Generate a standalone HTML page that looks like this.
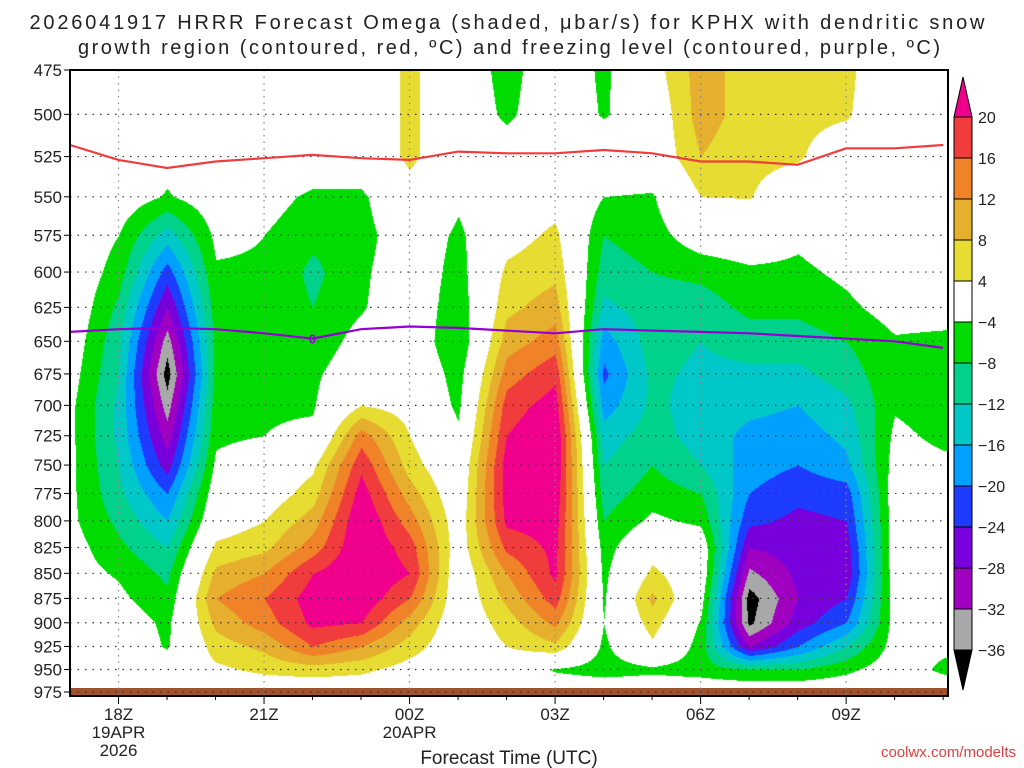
<!DOCTYPE html>
<html><head><meta charset="utf-8"><style>
body{margin:0;background:#fff;width:1024px;height:768px;overflow:hidden;font-family:"Liberation Sans",sans-serif}
#wrap{position:relative;width:1024px;height:768px}
canvas{position:absolute;left:70px;top:70px}
svg{position:absolute;left:0;top:0}
</style></head><body>
<div id="wrap">
<canvas id="cv" width="878" height="626"></canvas>
<svg id="sv" width="1024" height="768"></svg>
</div>
<script>
const hours=[17,18,19,20,21,22,23,24,25,26,27,28,29,30,31,32,33,34,35];
const pLevels=[475,500,525,550,575,600,625,650,675,700,725,750,775,800,825,850,875,900,925,950,975];
// omega[hour][level]
const omega=[
[0,0,0,0,0,0,0,-1,-2,-3,-3,-3,-3,-3,-2,-2,-1,-1,0,0,0],
[0,0,0,-1,-4,-6,-9,-11,-12,-13,-13,-12,-11,-9,-7,-4.5,-3,-1,0,0,0],
[-1,-1,-2,-4.5,-14,-22,-28,-34,-38,-34,-30,-26,-20,-16,-12,-9,-7,-5,-4.5,0,0],
[0,0,0,-1,-3,-4.5,-6,-7,-7,-6,-5,-3,-1,1,5,9,12,9,6,3,0],
[0,0,0,-2,-4,-4.5,-5,-5,-5,-4.5,-4,0,1,4,7,12,16,14,9,5,0],
[0,0,0,-5,-7,-9,-8,-7,-5,-4.5,-3,3,6,10,14,20,22,21,16,6,0],
[0,0,0,-5,-6,-5,-4.5,-2,0,4,14,19,22,24,24,24,23,20,12,5,0],
[5,5,5,2,0,0,0,0,1,2,4,6,10,14,18,20,16,10,6,2,0],
[0,0,0,-3,-5,-6,-7,-8,-6,-5,-3,-1,0,1,1,0,0,0,0,0,0],
[-6,-5,-1,0,2,5,7,10,14,18,20,22,22,21,17,12,9,6,4,0,0],
[0,0,0,2,5,7,10,14,19,22,24,24,23,22,21,21,18,13,7,-4.5,0],
[-5,-4.5,0,-4,-8,-10,-13,-18,-21,-18,-14,-12,-10,-8,-6,-5,-4.5,-4,-5,-6,0],
[2,0,0,-4.5,-6,-8,-10,-10,-11,-11,-10,-8,-6,-3,2,5,9,6,3,-5,0],
[10,10,8,4,-1,-7,-10,-12,-13,-14,-14,-12,-8,-5,0,0,-2,-4.5,-6,-6,0],
[6,6,5,4.2,0,-5,-7,-10,-13,-15,-17,-18,-20,-23,-28,-33,-38,-37,-28,-8,0],
[5,5,4.5,1,-3,-5,-7,-10,-13,-16,-18,-20,-23,-25,-26,-27,-28,-26,-20,-8,0],
[5,4.5,1,0,-1,-3,-5,-8,-10,-13,-15,-17,-22,-24,-26,-27,-24,-20,-12,-5,0],
[0,0,0,0,0,0,-2,-4.5,-5,-4.5,-3,-2,-1,-1,-1,-1,-1.5,-2,-2,-1,0],
[0,0,0,0,0,0,-2,-5,-5.5,-6,-5,-3,-2,-1,-1,-1,-2,-3,-3,-5,0]];
const dgzP=[518,527,532,528,526,524,526,527,522,523,523,521,523,528,528,530,520,520,518];
const frzP=[643,641,640,641,644,648,641,639,640,642,644,641,642,643,644,646,648,650,655];
const levels=[-36,-32,-28,-24,-20,-16,-12,-8,-4,4,8,12,16,20];
const colors=["#000000","#a8a8a8","#a000c0","#7800dc","#1e3cff","#00a0ff","#00c8c8","#00d28c","#00dc00","#ffffff","#e6dc32","#e6af2d","#f08228","#f03c3c","#f0008c"];
const xTicks=[18,21,24,27,30,33];
const xTickLabels=["18Z","21Z","00Z","03Z","06Z","09Z"];

const X0=70,X1=948,Y0=70,Y1=692,B=696;
const hMin=17,hMax=35.1;
function xs(h){return X0+(h-hMin)/(hMax-hMin)*(X1-X0);}
function ys(p){return Y0+(Math.log(p)-Math.log(475))/(Math.log(975)-Math.log(475))*(Y1-Y0);}
function hex(c){return [parseInt(c.substr(1,2),16),parseInt(c.substr(3,2),16),parseInt(c.substr(5,2),16)];}
const rgb=colors.map(hex);
const cv=document.getElementById('cv'),ctx=cv.getContext('2d');
const W=cv.width,H=cv.height,img=ctx.createImageData(W,H);
const lp=pLevels.map(p=>Math.log(p));
for(let py=0;py<H;py++){
 const y=Y0+py; const l=Math.log(475)+(y-Y0)/(Y1-Y0)*(Math.log(975)-Math.log(475));
 let j=0;while(j<lp.length-2&&l>lp[j+1])j++;
 let fy=(l-lp[j])/(lp[j+1]-lp[j]);fy=Math.max(0,Math.min(1,fy));
 for(let px=0;px<W;px++){
  const h=hMin+px/(X1-X0)*(hMax-hMin);
  let i=Math.floor(h-hours[0]);i=Math.max(0,Math.min(hours.length-2,i));
  let fx=(h-hours[i]);fx=Math.max(0,Math.min(1,fx));
  const v=(1-fx)*((1-fy)*omega[i][j]+fy*omega[i][j+1])+fx*((1-fy)*omega[i+1][j]+fy*omega[i+1][j+1]);
  let k=0;while(k<levels.length&&v>=levels[k])k++;
  const c=rgb[k],o=(py*W+px)*4;
  img.data[o]=c[0];img.data[o+1]=c[1];img.data[o+2]=c[2];img.data[o+3]=255;
 }
}
ctx.putImageData(img,0,0);
const S=document.getElementById('sv');const NS='http://www.w3.org/2000/svg';
function el(t,a,txt){const e=document.createElementNS(NS,t);for(const k in a)e.setAttribute(k,a[k]);if(txt!==undefined)e.textContent=txt;S.appendChild(e);return e;}
let g=el('rect',{x:X0,y:688,width:X1-X0,height:B-688,fill:'#a0522d'});


pLevels.forEach(p=>{const y=ys(p);
 let l=el('line',{x1:X0,x2:X1,y1:y,y2:y,stroke:'#333','stroke-width':1.2,'stroke-dasharray':'1.5 6'});
 
 
 let t=el('text',{x:62,y:y+6,'text-anchor':'end','font-size':17,fill:'#222'},p);
 
 
 el('line',{x1:64,x2:X0,y1:y,y2:y,stroke:'#000'});
});
xTicks.forEach((h,i)=>{const x=xs(h);
 let l=el('line',{x1:x,x2:x,y1:Y0,y2:B,stroke:'#888','stroke-width':1.2,'stroke-dasharray':'1.5 5'});
 
 
 el('line',{x1:x,x2:x,y1:B,y2:B+8,stroke:'#000'});
 let t=el('text',{x:x,y:720,'text-anchor':'middle','font-size':17,fill:'#222'},xTickLabels[i]);
 
 
});
for(let h=18;h<=35;h++){if(h%3){const x=xs(h);el('line',{x1:x,x2:x,y1:B,y2:B+4,stroke:'#000'});}}
[["19APR",xs(18),738],["2026",xs(18),756],["20APR",xs(24),738]].forEach(a=>{let t=el('text',{x:a[1],y:a[2],'text-anchor':'middle','font-size':17,fill:'#222'},a[0]);
 
 });
function path(arr){return arr.map((p,i)=>(i?'L':'M')+xs(hours[i]).toFixed(1)+','+ys(p).toFixed(1)).join(' ');}
let r=el('path',{d:path(dgzP),fill:'none',stroke:'#f03c3c','stroke-width':2.2});


let pu=el('path',{d:path(frzP),fill:'none',stroke:'#9400d3','stroke-width':2.2});


let zl=el('text',{x:xs(22),y:ys(648)+5,'text-anchor':'middle','font-size':13,fill:'#9400d3','font-weight':'bold'},'0');


let fr=el('rect',{x:X0,y:Y0,width:X1-X0,height:B-Y0,fill:'none',stroke:'#000','stroke-width':2});


const cbX=954,cbW=18,cbTop=117,step=41;
const nb=levels.length-1;
for(let k=1;k<=nb;k++){const y=cbTop+(nb-k)*step;
 let b=el('rect',{x:cbX,y:y,width:cbW,height:step,fill:colors[k],stroke:'#000','stroke-width':1});
 
 }
let tt=el('polygon',{points:`${cbX},${cbTop} ${cbX+cbW},${cbTop} ${cbX+cbW/2},${cbTop-40}`,fill:colors[colors.length-1],stroke:'#000'});


const cbBot=cbTop+nb*step;
let bt=el('polygon',{points:`${cbX},${cbBot} ${cbX+cbW},${cbBot} ${cbX+cbW/2},${cbBot+40}`,fill:colors[0],stroke:'#000'});


levels.forEach((v,k)=>{const y=cbTop+(nb-k)*step;
 let t=el('text',{x:978,y:y+6,'font-size':16,fill:'#222'},v<0?'\u2212'+(-v):v);
 
 });
let t1=el('text',{x:507,y:29,'text-anchor':'middle','font-size':20,fill:'#222',textLength:955},'2026041917 HRRR Forecast Omega (shaded, \u03bcbar/s) for KPHX with dendritic snow');


let t2=el('text',{x:509,y:54,'text-anchor':'middle','font-size':20,fill:'#222',textLength:862},'growth region (contoured, red, \u00baC) and freezing level (contoured, purple, \u00baC)');


let xt=el('text',{x:509,y:764,'text-anchor':'middle','font-size':19,fill:'#222'},'Forecast Time (UTC)');


let cr=el('text',{x:1016,y:757,'text-anchor':'end','font-size':15,fill:'#e04040'},'coolwx.com/modelts');


</script>
</body></html>
